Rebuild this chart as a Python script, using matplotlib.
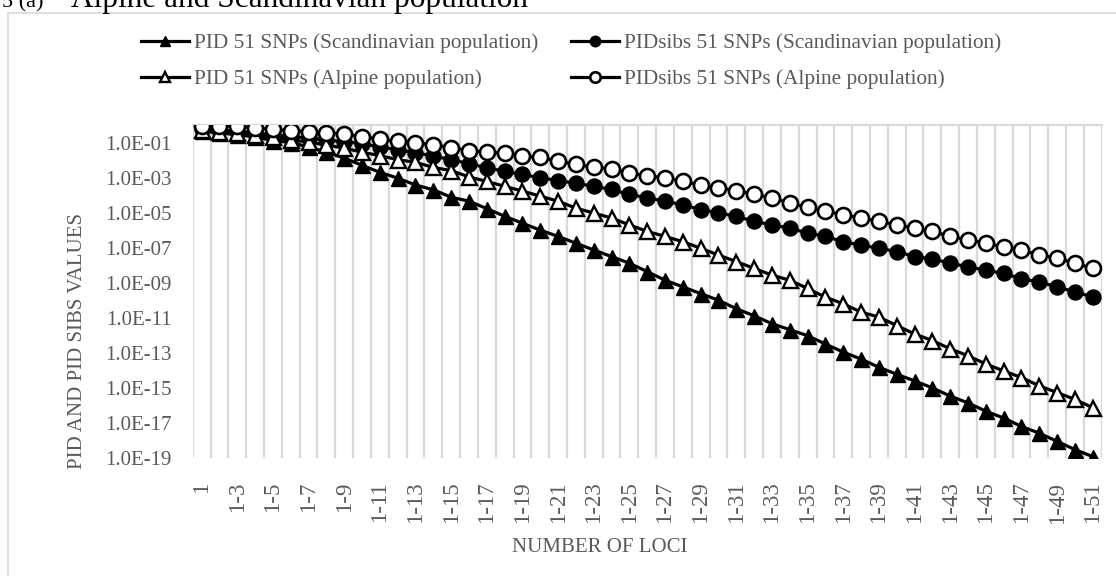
import matplotlib
matplotlib.use("Agg")
import matplotlib.pyplot as plt
import matplotlib.ticker as mticker
import numpy as np

# data
loci = ["1"] + ["1-%d" % n for n in range(2, 52)]

pid_scand = [4.5e-01, 3.5e-01, 2.8e-01, 2.1e-01, 1.3e-01, 1.0e-01, 5.6e-02, 2.8e-02, 1.3e-02, 5.0e-03,
             2.0e-03, 9.3e-04, 3.8e-04, 2.0e-04, 7.6e-05, 4.5e-05, 1.7e-05, 6.2e-06, 2.5e-06, 1.0e-06,
             4.4e-07, 1.8e-07, 7.4e-08, 3.1e-08, 1.3e-08, 4.3e-09, 1.4e-09, 5.8e-10, 2.4e-10, 1.0e-10,
             3.3e-11, 1.3e-11, 4.6e-12, 2.1e-12, 9.5e-13, 3.2e-13, 1.1e-13, 4.4e-14, 1.5e-14, 6.0e-15,
             2.5e-15, 1.0e-15, 3.4e-16, 1.4e-16, 4.7e-17, 1.9e-17, 6.3e-18, 2.6e-18, 8.9e-19, 3.0e-19,
             1.2e-19]

pid_alpine = [5.0e-01, 4.2e-01, 3.5e-01, 2.8e-01, 2.1e-01, 1.4e-01, 1.05e-01, 7.1e-02, 4.8e-02, 2.8e-02,
              1.8e-02, 1.05e-02, 7.4e-03, 3.8e-03, 2.5e-03, 1.1e-03, 6.0e-04, 3.2e-04, 1.7e-04, 8.7e-05,
              4.5e-05, 1.8e-05, 9.5e-06, 4.9e-06, 2.0e-06, 8.5e-07, 4.4e-07, 2.2e-07, 9.3e-08, 3.8e-08,
              1.6e-08, 6.6e-09, 2.7e-09, 1.4e-09, 4.7e-10, 1.5e-10, 6.3e-11, 2.1e-11, 1.1e-11, 3.6e-12,
              1.2e-12, 5.0e-13, 1.7e-13, 6.8e-14, 2.3e-14, 9.3e-15, 3.9e-15, 1.3e-15, 5.4e-16, 2.2e-16,
              7.4e-17]

pidsibs_scand = [6.3e-01, 5.2e-01, 4.4e-01, 3.5e-01, 2.8e-01, 2.2e-01, 1.8e-01, 1.4e-01, 1.1e-01, 8.7e-02,
                 5.6e-02, 4.0e-02, 2.6e-02, 1.7e-02, 1.05e-02, 6.3e-03, 3.6e-03, 2.3e-03, 1.5e-03, 9.8e-04,
                 6.8e-04, 4.7e-04, 3.2e-04, 2.1e-04, 1.1e-04, 6.9e-05, 4.5e-05, 2.8e-05, 1.5e-05, 9.5e-06,
                 6.2e-06, 3.2e-06, 2.0e-06, 1.3e-06, 6.8e-07, 4.4e-07, 2.2e-07, 1.4e-07, 9.3e-08, 6.0e-08,
                 3.1e-08, 2.3e-08, 1.3e-08, 8.1e-09, 5.2e-09, 3.4e-09, 1.7e-09, 1.1e-09, 5.8e-10, 3.0e-10,
                 1.55e-10]

pidsibs_alpine = [9.3e-01, 8.9e-01, 8.3e-01, 6.9e-01, 5.6e-01, 4.8e-01, 4.2e-01, 3.5e-01, 3.0e-01, 2.2e-01,
                  1.5e-01, 1.2e-01, 9.3e-02, 7.6e-02, 5.0e-02, 3.5e-02, 2.8e-02, 2.4e-02, 1.7e-02, 1.4e-02,
                  8.9e-03, 5.6e-03, 4.0e-03, 3.0e-03, 1.9e-03, 1.2e-03, 9.8e-04, 6.3e-04, 3.7e-04, 2.6e-04,
                  1.8e-04, 1.1e-04, 6.9e-05, 3.5e-05, 2.0e-05, 1.2e-05, 7.6e-06, 4.9e-06, 3.2e-06, 2.0e-06,
                  1.3e-06, 8.5e-07, 4.4e-07, 2.8e-07, 1.8e-07, 1.1e-07, 7.4e-08, 3.8e-08, 2.5e-08, 1.3e-08,
                  6.6e-09]

labels = ["PID 51 SNPs (Scandinavian population)",
          "PIDsibs 51 SNPs (Scandinavian population)",
          "PID 51 SNPs (Alpine population)",
          "PIDsibs 51 SNPs (Alpine population)"]

plt.rcParams['font.family'] = ['Liberation Serif', 'DejaVu Serif']
grey_txt = '#595959'
grid_c = '#d9d9d9'

W, H = 1116, 576
fig = plt.figure(figsize=(W / 100, H / 100), dpi=100)
ax = fig.add_axes([192.7 / W, 1 - 458 / H, (1101.7 - 192.7) / W, (458 - 125) / H])

x = np.arange(1, len(loci) + 1)

# draw order: filled triangles at the back, open circles on top
l1, = ax.plot(x, pid_scand, color='black', lw=2.3, marker='^', ms=10.8,
              mfc='black', mec='black', zorder=3)
l2, = ax.plot(x, pidsibs_scand, color='black', lw=2.3, marker='o', ms=10.8,
              mfc='black', mec='black', zorder=4)
l3, = ax.plot(x, pid_alpine, color='black', lw=2.3, marker='^', ms=10.8,
              mfc='white', mec='black', mew=1.7, zorder=5)
l4, = ax.plot(x, pidsibs_alpine, color='black', lw=2.3, marker='o', ms=10.8,
              mfc='white', mec='black', mew=1.9, zorder=6)

ax.set_yscale('log')
ax.set_ylim(1e-19, 1e0)
ax.set_xlim(0.5, len(loci) + 0.5)

ax.yaxis.set_major_locator(mticker.FixedLocator(10.0 ** np.arange(-19, 0, 2)))
ax.yaxis.set_minor_locator(mticker.NullLocator())
ax.yaxis.set_major_formatter(mticker.FuncFormatter(lambda v, p: "%.1E" % v))

ax.set_xticks(x[::2])
ax.set_xticklabels(loci[::2], rotation=90)
ax.set_xticks(np.arange(0.5, len(loci) + 1, 1), minor=True)
ax.grid(which='minor', axis='x', color=grid_c, lw=1.6)
ax.grid(which='major', visible=False)
ax.set_axisbelow(True)

ax.tick_params(axis='both', which='both', length=0, colors=grey_txt)
ax.tick_params(axis='x', pad=17, labelsize=16.5)
ax.tick_params(axis='y', pad=15, labelsize=15)

for s in ['left', 'right', 'bottom']:
    ax.spines[s].set_visible(False)
ax.spines['top'].set_color(grid_c)
ax.spines['top'].set_linewidth(1.6)

# axis titles
fig.text(77 / W, 1 - 341 / H, "PID AND PID SIBS VALUES", rotation=90,
         ha='center', va='center', fontsize=15, color=grey_txt)
fig.text(600 / W, 1 - 547 / H, "NUMBER OF LOCI",
         ha='center', va='center', fontsize=15, color=grey_txt)

# legend
fig.legend([l1, l3, l2, l4], [labels[0], labels[2], labels[1], labels[3]],
           ncol=2, loc='upper left', bbox_to_anchor=(141 / W, 1 - 33.5 / H),
           frameon=False, fontsize=15.3, handlelength=2.25, handletextpad=0.25,
           columnspacing=1.55, labelspacing=0.76, markerscale=0.7,
           borderpad=0, borderaxespad=0, labelcolor=grey_txt)

# figure caption, cut at the top edge of the image as in the original
fig.text(43 / W, 1 - 7 / H, "5 (a)", ha='right', va='baseline', fontsize=16, color='black')
fig.text(71 / W, 1 - 7 / H, "Alpine and Scandinavian population", ha='left',
         va='baseline', fontsize=22.5, color='black')

# chart border (only top and left edges are inside the image)
fig.add_artist(plt.Line2D([8 / W, 1.0], [1 - 12.5 / H] * 2, transform=fig.transFigure,
                          color=grid_c, lw=1.2))
fig.add_artist(plt.Line2D([8 / W] * 2, [0, 1 - 12.5 / H], transform=fig.transFigure,
                          color=grid_c, lw=1.2))

fig.savefig("out.png", dpi=100)
